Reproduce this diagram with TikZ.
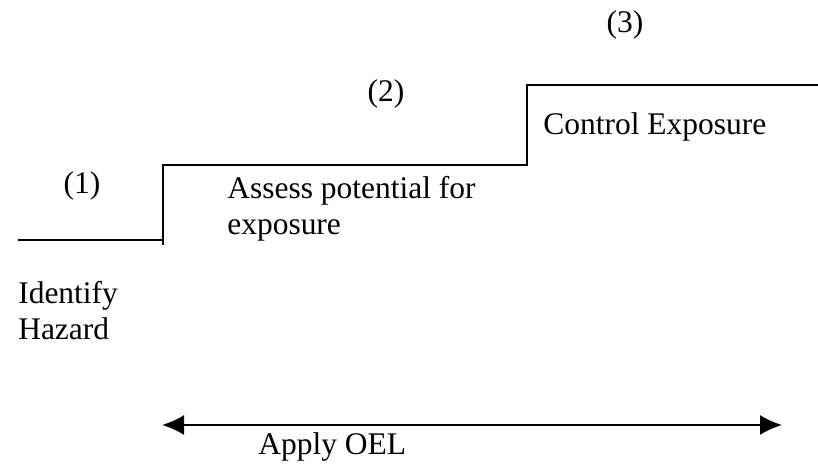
\documentclass[tikz,border=0pt]{standalone}
\usepackage{fontspec}
\setmainfont{Liberation Serif}
\usetikzlibrary{arrows.meta}
\begin{document}
\begin{tikzpicture}[every node/.style={inner sep=0pt,font=\fontsize{22.4}{26}\selectfont}]
	\useasboundingbox (0,0) rectangle (20.45,11.7);
	\coordinate (StepOneMin)   at (0.45,5.7);
	\coordinate (StepOneMax)   at (4.075,5.7);
	\coordinate (StepTwoMin)   at (4.075,7.575);
	\coordinate (StepTwoMax)   at (13.175,7.575);
	\coordinate (StepThreeMin) at (13.175,9.575);
	\coordinate (StepThreeMax) at (20.45,9.575);
	\coordinate (RiserFoot)    at (4.075,5.575);
	\coordinate (ApplyMin)     at (4.05,1.075);
	\coordinate (ApplyMax)     at (19.55,1.075);

	\draw [line width=1.5pt] (StepOneMin) -- (StepOneMax);
	\draw [line width=1.5pt] (RiserFoot) -- (StepTwoMin) -- (StepTwoMax) -- (StepThreeMin) -- (StepThreeMax);
	\draw [line width=1.3pt,{Latex[length=0.55cm,width=0.5cm]}-{Latex[length=0.55cm,width=0.5cm]}] (ApplyMin) -- (ApplyMax);

	\node[anchor=base] (LabelOne) at (2.05,6.85) {(1)};
	\node[anchor=base] (LabelTwo) at (9.65,9.15) {(2)};
	\node[anchor=base] (LabelThree) at (15.625,10.875) {(3)};
	\node[anchor=base west,align=left] (IdentifyText) at (0.45,3.2) {Identify\\Hazard};
	\node[anchor=base west,align=left] (AssessText) at (5.675,5.825) {Assess potential for\\exposure};
	\node[anchor=base west] (ControlText) at (13.575,8.325) {Control Exposure};
	\node[anchor=base west] (ApplyText) at (6.45,0.325) {Apply OEL};
\end{tikzpicture}
\end{document}
